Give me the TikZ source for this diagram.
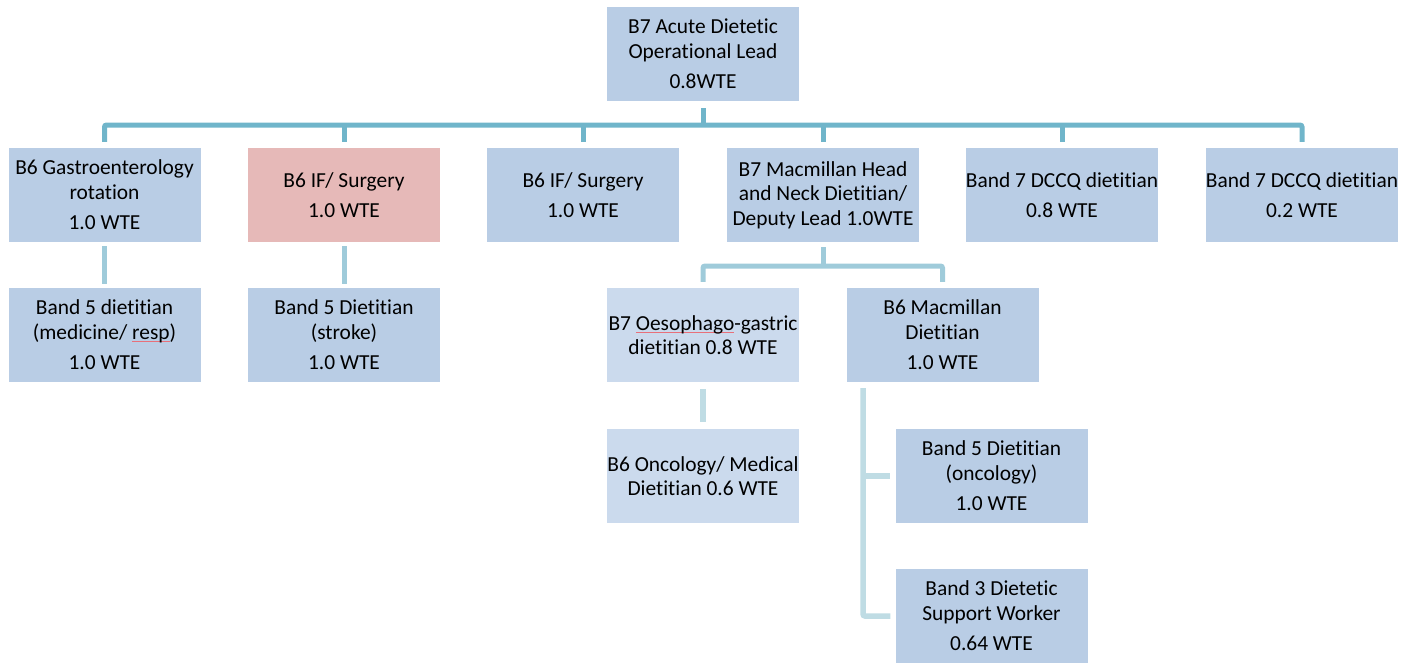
\documentclass[tikz,border=0pt]{standalone}
\usepackage{fontspec}
\setmainfont[Ligatures=NoCommon]{Carlito}
\usetikzlibrary{calc}
\definecolor{boxblue}{HTML}{B9CDE5}
\definecolor{boxlight}{HTML}{CBDAED}
\definecolor{boxpink}{HTML}{E6B9B8}
\definecolor{lineA}{HTML}{70B5CA}
\definecolor{lineB}{HTML}{9FCBDA}
\definecolor{lineC}{HTML}{BFDCE4}
\definecolor{spellred}{HTML}{E8707A}
\newcommand\spellmark[1]{\setbox0\hbox{#1}\rlap{\color{spellred}\raisebox{-3pt}{\rule{\wd0}{0.9pt}}}\box0}
\begin{document}
\begin{tikzpicture}[x=1pt,y=-1pt,
  orgbox/.style={fill=boxblue,draw=none,minimum width=192pt,minimum height=94pt,inner sep=0pt,align=center,
    font=\fontsize{21.4}{24.5}\selectfont},
  lightbox/.style={orgbox,fill=boxlight},
  pinkbox/.style={orgbox,fill=boxpink},
  connA/.style={draw=lineA,line width=5pt,rounded corners=2pt},
  connB/.style={draw=lineB,line width=5pt,rounded corners=2pt},
  connC/.style={draw=lineC,line width=5.5pt,rounded corners=2pt}]
\useasboundingbox (0,0) rectangle (1413,662);

\node[orgbox] (top) at (703,54) {B7 Acute Dietetic\\Operational Lead\\[6pt]0.8WTE};

\node[orgbox] (g1) at (104.5,195) {B6 Gastroenterology\\rotation\\[6pt]1.0 WTE};
\node[pinkbox] (g2) at (344,195) {B6 IF/ Surgery\\[6pt]1.0 WTE};
\node[orgbox] (g3) at (583,195) {B6 IF/ Surgery\\[6pt]1.0 WTE};
\node[orgbox] (g4) at (823,195) {B7 Macmillan Head\\and Neck Dietitian/\\Deputy Lead 1.0WTE};
\node[orgbox] (g5) at (1062,195) {Band 7 DCCQ dietitian\\[6pt]0.8 WTE};
\node[orgbox] (g6) at (1302,195) {Band 7 DCCQ dietitian\\[6pt]0.2 WTE};

\node[orgbox] (h1) at (104.5,335) {Band 5 dietitian\\(medicine/ \spellmark{resp})\\[6pt]1.0 WTE};
\node[orgbox] (h2) at (344,335) {Band 5 Dietitian\\(stroke)\\[6pt]1.0 WTE};
\node[lightbox] (og) at (703,335) {B7 \spellmark{Oesophago}-gastric\\dietitian 0.8 WTE};
\node[orgbox] (mac) at (942.5,335) {B6 Macmillan\\Dietitian\\[6pt]1.0 WTE};

\node[lightbox] (onc) at (703,476) {B6 Oncology/ Medical\\Dietitian 0.6 WTE};
\node[orgbox] (b5) at (991.5,476) {Band 5 Dietitian\\(oncology)\\[6pt]1.0 WTE};
\node[orgbox] (b3) at (991.5,616) {Band 3 Dietetic\\Support Worker\\[6pt]0.64 WTE};

% level 1 connectors
\coordinate (bus) at (0,125);
\draw[connA] ([yshift=-7pt]top.south) -- (top.south |- bus);
\draw[connA] ([yshift=6pt]g1.north) -- (g1.north |- bus) -- (g6.north |- bus) -- ([yshift=6pt]g6.north);
\foreach \n in {g2,g3,g4,g5}{
  \draw[connA] (\n.north |- bus) -- ([yshift=6pt]\n.north);
}

% level 2 connectors
\draw[connB] ([yshift=-4pt]g1.south) -- ([yshift=4pt]h1.north);
\draw[connB] ([yshift=-4pt]g2.south) -- ([yshift=4pt]h2.north);
\coordinate (bus2) at (0,266);
\draw[connB] ([yshift=-5pt]g4.south) -- (g4.south |- bus2);
\draw[connB] ([yshift=6pt]og.north) -- (og.north |- bus2) -- (mac.north |- bus2) -- ([yshift=6pt]mac.north);

% level 3 connectors
\draw[connC] ([yshift=-7pt]og.south) -- ([yshift=7pt]onc.north);
\coordinate (spine) at (863,0);
\draw[connC] ([yshift=-6pt]mac.south -| spine) -- (spine |- b3.west) -- ([xshift=-5pt]b3.west);
\draw[connC] (spine |- b5.west) -- ([xshift=-5pt]b5.west);
\end{tikzpicture}
\end{document}
